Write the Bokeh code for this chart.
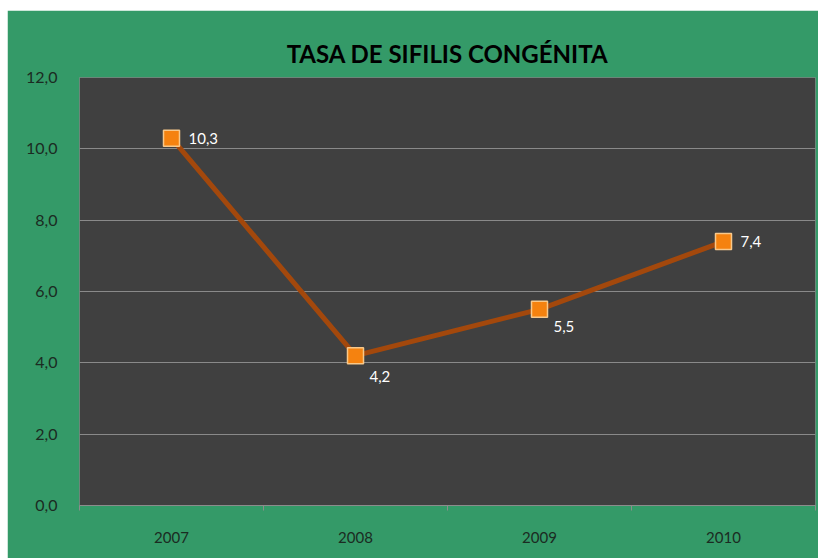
from bokeh.plotting import figure
from bokeh.models import ColumnDataSource, FixedTicker, Title, LabelSet
from bokeh.core.properties import value
from bokeh.embed import file_html
from bokeh.resources import INLINE

years = ["2007", "2008", "2009", "2010"]
rates = [10.3, 4.2, 5.5, 7.4]
y_ticks = [0, 2, 4, 6, 8, 10, 12]
y_tick_labels = ["0,0", "2,0", "4,0", "6,0", "8,0", "10,0", "12,0"]
label_dx = [17, 14, 14, 17]
label_dy = [0, -21, -17, 0]

x_pos = [i + 0.5 for i in range(len(years))]
labels = [f"{v:.1f}".replace(".", ",") for v in rates]
src = ColumnDataSource(dict(x=x_pos, y=rates, lab=labels, dx=label_dx, dy=label_dy))

GREEN = "#349a68"
p = figure(width=811, height=548, x_range=(0, len(years)), y_range=(0, 12),
           output_backend="svg", toolbar_location=None,
           background_fill_color="#404040", border_fill_color=GREEN,
           min_border_left=72, min_border_right=3, min_border_top=67, min_border_bottom=53)
p.margin = (10, 0, 0, 7)
p.outline_line_color = None

p.title = Title(text="TASA DE SIFILIS CONGÉNITA", align="center", text_font="Lato",
                text_font_size="24px", text_font_style="bold", text_color="#000000",
                standoff=20)

# y axis
p.yaxis.ticker = FixedTicker(ticks=y_ticks)
p.yaxis.major_label_overrides = {t: l for t, l in zip(y_ticks, y_tick_labels)}
p.yaxis.axis_line_color = None
p.yaxis.major_tick_line_color = None
p.yaxis.minor_tick_line_color = None
p.yaxis.major_label_standoff = 16
p.yaxis.major_label_text_font = "Lato"
p.yaxis.major_label_text_font_size = "16px"
p.yaxis.major_label_text_color = "#1b2b22"

# x axis
p.xaxis.ticker = FixedTicker(ticks=x_pos, minor_ticks=list(range(len(years) + 1)))
p.xaxis.major_label_overrides = {x: y for x, y in zip(x_pos, years)}
p.xaxis.axis_line_color = "#8c8c8c"
p.xaxis.major_tick_line_color = None
p.xaxis.minor_tick_line_color = "#8c8c8c"
p.xaxis.minor_tick_out = 5
p.xaxis.minor_tick_in = 0
p.xaxis.major_label_standoff = 20
p.xaxis.major_label_text_font = "Lato"
p.xaxis.major_label_text_font_size = "15px"
p.xaxis.major_label_text_color = "#1b2b22"

p.xgrid.grid_line_color = None
p.ygrid.grid_line_color = "#8a8a8a"
p.ygrid.grid_line_width = 1

p.line("x", "y", source=src, line_color="#a3480c", line_width=5)
p.scatter("x", "y", source=src, marker="square", size=16,
          fill_color="#f5820f", line_color="#f8c88a", line_width=1.5)

ls = LabelSet(x="x", y="y", text="lab", source=src, x_offset="dx", y_offset="dy",
              text_color="#ffffff", text_font=value("Lato"), text_font_size=value("15px"),
              text_baseline="middle", text_align="left")
p.add_layout(ls)

open("out.html", "w").write(file_html(p, INLINE))
